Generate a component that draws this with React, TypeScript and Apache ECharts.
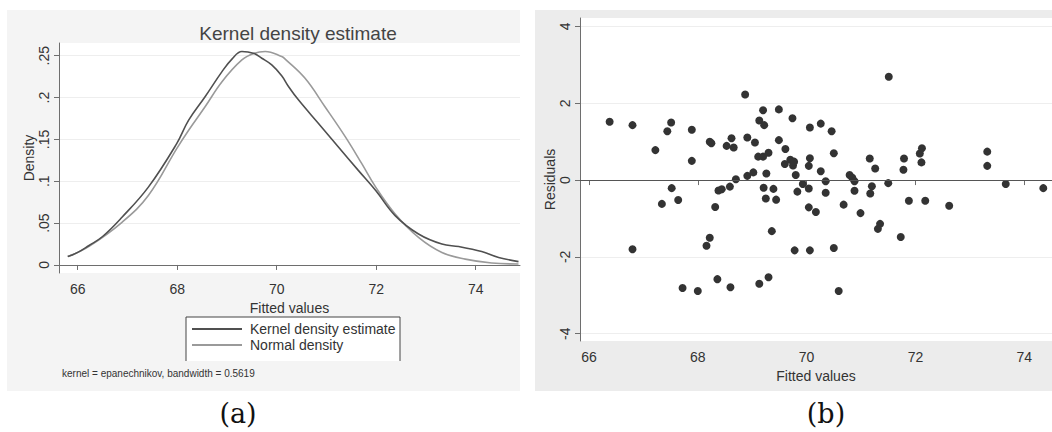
import React, { useEffect, useRef } from 'react';
import * as echarts from 'echarts';

// Panel (a): kernel density estimate vs normal density
const kdeX = [65.8, 66.0, 66.22, 66.5, 66.89, 67.42, 67.99, 68.23, 68.56, 68.9, 69.1, 69.3, 69.53, 69.7, 69.9, 70.1, 70.24, 70.44, 70.84, 71.24, 71.64, 71.99, 72.38, 72.85, 73.32, 73.66, 74.12, 74.46, 74.86];
const kdeY = [0.010, 0.015, 0.023, 0.034, 0.057, 0.093, 0.145, 0.173, 0.201, 0.231, 0.246, 0.255, 0.253, 0.247, 0.239, 0.226, 0.213, 0.197, 0.169, 0.141, 0.113, 0.089, 0.059, 0.037, 0.025, 0.022, 0.016, 0.009, 0.004];
const normX = [65.8, 66.22, 66.89, 67.42, 67.99, 68.23, 68.56, 68.9, 69.3, 69.55, 69.77, 70.1, 70.17, 70.57, 70.97, 71.38, 71.71, 71.99, 72.38, 72.85, 73.32, 73.79, 74.32, 74.86];
const normY = [0.010, 0.022, 0.051, 0.083, 0.139, 0.161, 0.189, 0.219, 0.245, 0.253, 0.255, 0.249, 0.246, 0.223, 0.189, 0.153, 0.121, 0.093, 0.061, 0.033, 0.015, 0.007, 0.0024, 0.0012];
const densityTicks = [0, 0.05, 0.1, 0.15, 0.2, 0.25];
const densityTickLabels = ['0', '.05', '.1', '.15', '.2', '.25'];
const fittedTicks = [66, 68, 70, 72, 74];

// Panel (b): residuals vs fitted values
const residTicks = [-4, -2, 0, 2, 4];
const fitted = [
  66.38, 66.8, 66.8, 67.22, 67.34, 67.44, 67.51, 67.52, 67.64, 67.72, 67.89, 67.89, 68.0, 68.16, 68.22, 68.22, 68.25, 68.32, 68.36, 68.38, 68.44, 68.53, 68.59, 68.6, 68.62, 68.66, 68.7,
  68.87, 68.91, 68.91, 69.02, 69.05, 69.13, 69.13, 69.11, 69.2, 69.2, 69.22, 69.21, 69.25, 69.26, 69.3, 69.3, 69.36, 69.39, 69.44, 69.49, 69.49, 69.61, 69.6, 69.7, 69.74, 69.75, 69.77, 69.78, 69.8, 69.83, 69.93, 70.04, 70.04, 70.04, 70.06, 70.06, 70.06, 70.17, 70.26, 70.26, 70.35, 70.35, 70.46, 70.5, 70.5, 70.59, 70.68, 70.79, 70.84, 70.88, 70.88, 70.99, 71.16, 71.2, 71.17, 71.26, 71.35, 71.31, 71.51, 71.5,
  71.73, 71.78, 71.79, 71.88, 72.08, 72.12, 72.11, 72.18, 72.62, 73.32, 73.32, 73.66, 74.35,
];
const residuals = [
  1.52, 1.43, -1.8, 0.78, -0.62, 1.27, 1.5, -0.21, -0.52, -2.81, 1.31, 0.5, -2.89, -1.71, -1.5, 1.0, 0.96, -0.7, -2.58, -0.27, -0.24, 0.89, -0.17, -2.79, 1.09, 0.85, 0.02,
  2.23, 1.11, 0.11, 0.2, 0.98, 1.55, -2.7, 0.61, 1.82, 0.61, 1.43, -0.2, -0.48, 0.17, 0.71, -2.53, -1.33, -0.23, -0.51, 1.84, 1.04, 0.81, 0.42, 0.53, 1.61, 0.38, 0.48, -1.83, 0.13, -0.3, -0.1, -0.71, -0.22, 0.37, 0.57, 1.37, -1.83, -0.83, 1.47, 0.23, -0.03, -0.33, 1.27, 0.7, -1.77, -2.89, -0.64, 0.13, 0.06, -0.03, -0.28, -0.86, 0.56, -0.16, -0.35, 0.3, -1.14, -1.27, 2.69, -0.08,
  -1.48, 0.27, 0.56, -0.54, 0.69, 0.83, 0.46, -0.54, -0.67, 0.74, 0.37, -0.1, -0.21,
];

const FONT = 'Liberation Sans';
const AX = '#6e6e6e';
const TXT = '#333';

export default function App() {
  const ref = useRef<HTMLDivElement>(null);
  useEffect(() => {
    const chart = echarts.init(ref.current as HTMLDivElement, null, { renderer: 'svg' });
    const densityLabel = (v: number) => {
      const i = densityTicks.findIndex((t) => Math.abs(t - v) < 1e-9);
      return i >= 0 ? densityTickLabels[i] : '';
    };
    const commonAxisLine = { show: true, lineStyle: { color: AX, width: 1 } };
    const option: any = {
      animation: false,
      backgroundColor: '#fff',
      textStyle: { fontFamily: FONT },
      title: {
        text: 'Kernel density estimate',
        left: 293,
        top: 19,
        textAlign: 'center',
        textStyle: { fontSize: 19, fontWeight: 'normal', color: '#444', fontFamily: FONT },
      },
      legend: {
        show: true,
        orient: 'vertical',
        left: 192,
        top: 322,
        padding: 0,
        itemWidth: 50,
        itemHeight: 2,
        itemGap: 2,
        icon: 'rect',
        data: ['Kernel density estimate', 'Normal density'],
        textStyle: { fontSize: 14, color: TXT, fontFamily: FONT, padding: [0, 0, 0, 3] },
      },
      graphic: [
        { type: 'rect', z: -20, silent: true, shape: { x: 7, y: 10, width: 513, height: 381 }, style: { fill: '#f4f4f4' } },
        { type: 'rect', z: -20, silent: true, shape: { x: 535, y: 10, width: 517, height: 381 }, style: { fill: '#ececec' } },
        { type: 'rect', z: -10, silent: true, shape: { x: 186, y: 317, width: 214, height: 44 }, style: { fill: '#fff' } },
        { type: 'polyline', z: 10, silent: true, shape: { points: [[186, 361], [186, 317], [400, 317], [400, 361]] }, style: { stroke: '#444', lineWidth: 1, fill: null } },
        { type: 'text', silent: true, x: 62, y: 373, style: { text: 'kernel = epanechnikov, bandwidth = 0.5619', fontSize: 10, fill: TXT, fontFamily: FONT, verticalAlign: 'middle' } },
        { type: 'text', silent: true, x: 238, y: 413, style: { text: '(a)', fontSize: 27, fill: '#111', fontFamily: 'DejaVu Serif', align: 'center', verticalAlign: 'middle' } },
        { type: 'text', silent: true, x: 826, y: 413, style: { text: '(b)', fontSize: 27, fill: '#111', fontFamily: 'DejaVu Serif', align: 'center', verticalAlign: 'middle' } },
      ],
      grid: [
        { left: 59, top: 43, width: 461, height: 230, show: true, backgroundColor: '#fff', borderWidth: 0 },
        { left: 580, top: 18, width: 472, height: 323, show: true, backgroundColor: '#fff', borderWidth: 0 },
      ],
      xAxis: [
        {
          gridIndex: 0, type: 'value', min: 65.624, max: 74.89,
          axisLine: commonAxisLine,
          axisTick: { show: true, length: 5, customValues: fittedTicks, lineStyle: { color: AX } },
          axisLabel: { customValues: fittedTicks, margin: 9, fontSize: 14, color: TXT, fontFamily: FONT },
          splitLine: { show: false },
          name: 'Fitted values', nameLocation: 'middle', nameGap: 22,
          nameTextStyle: { fontSize: 14, color: TXT, fontFamily: FONT },
        },
        {
          gridIndex: 1, type: 'value', min: 65.835, max: 74.51,
          axisLine: commonAxisLine,
          axisTick: { show: true, length: 5, customValues: fittedTicks, lineStyle: { color: AX } },
          axisLabel: { customValues: fittedTicks, margin: 9, fontSize: 14, color: TXT, fontFamily: FONT },
          splitLine: { show: false },
          name: 'Fitted values', nameLocation: 'middle', nameGap: 22,
          nameTextStyle: { fontSize: 14, color: TXT, fontFamily: FONT },
        },
      ],
      yAxis: [
        {
          gridIndex: 0, type: 'value', min: -0.0096, max: 0.2652,
          axisLine: commonAxisLine,
          axisTick: { show: true, length: 5, customValues: densityTicks, lineStyle: { color: AX } },
          axisLabel: { customValues: densityTicks, rotate: 90, margin: 8, fontSize: 14, color: TXT, fontFamily: FONT, formatter: densityLabel },
          splitLine: { show: true, lineStyle: { color: '#eeeeee', width: 1 } },
          name: 'Density', nameLocation: 'middle', nameGap: 22, nameRotate: 90,
          nameTextStyle: { fontSize: 14, color: TXT, fontFamily: FONT },
        },
        {
          gridIndex: 1, type: 'value', min: -4.19, max: 4.22,
          axisLine: commonAxisLine,
          axisTick: { show: true, length: 5, customValues: residTicks, lineStyle: { color: AX } },
          axisLabel: { customValues: residTicks, rotate: 90, margin: 8, fontSize: 14, color: TXT, fontFamily: FONT },
          splitLine: { show: true, lineStyle: { color: '#eeeeee', width: 1 } },
          name: 'Residuals', nameLocation: 'middle', nameGap: 18, nameRotate: 90,
          nameTextStyle: { fontSize: 14, color: TXT, fontFamily: FONT },
        },
      ],
      series: [
        {
          name: 'Kernel density estimate', type: 'line', xAxisIndex: 0, yAxisIndex: 0,
          data: kdeX.map((x, i) => [x, kdeY[i]]), smooth: 0.4, showSymbol: false, symbol: 'none',
          itemStyle: { color: '#505050' }, lineStyle: { color: '#505050', width: 1.6 }, z: 3,
        },
        {
          name: 'Normal density', type: 'line', xAxisIndex: 0, yAxisIndex: 0,
          data: normX.map((x, i) => [x, normY[i]]), smooth: 0.4, showSymbol: false, symbol: 'none',
          itemStyle: { color: '#9a9a9a' }, lineStyle: { color: '#9a9a9a', width: 1.6 }, z: 2,
        },
        {
          name: 'Residuals', type: 'scatter', xAxisIndex: 1, yAxisIndex: 1,
          data: fitted.map((x, i) => [x, residuals[i]]), symbolSize: 8,
          itemStyle: { color: '#333', opacity: 1 },
          markLine: {
            silent: true, symbol: 'none', label: { show: false },
            lineStyle: { color: '#555', width: 1, type: 'solid' },
            data: [{ yAxis: 0 }],
          },
          z: 3,
        },
      ],
    };
    chart.setOption(option);
    return () => chart.dispose();
  }, []);
  return (
    <div
      ref={ref}
      style={{ position: 'fixed', left: 0, top: 0, width: 1052, height: 432, background: '#fff' }}
    />
  );
}
